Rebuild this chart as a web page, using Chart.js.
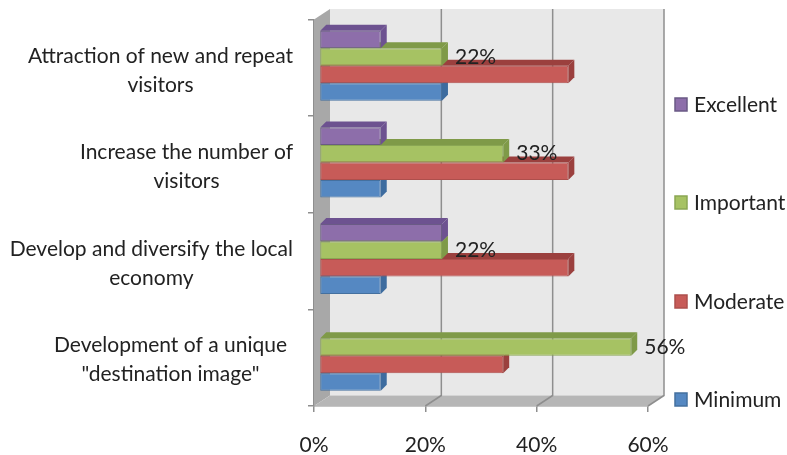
<!DOCTYPE html>
<html lang="en">
<head>
<meta charset="UTF-8">
<title>Chart</title>
<script src="https://cdn.jsdelivr.net/npm/chart.js"></script>
<style>
  html, body { margin: 0; padding: 0; background: #fff; }
  canvas { display: block; filter: blur(0.4px); }
</style>
</head>
<body>
<canvas id="myChart" width="787" height="455"></canvas>
<script>
const categories = [
  ['Attraction of new and repeat', 'visitors'],
  ['Increase the number of', 'visitors'],
  ['Develop and diversify the local', 'economy'],
  ['Development of a unique', '"destination image"']
];
const excellent = [11, 11, 22, 0];
const important = [22, 33, 22, 56];
const moderate = [44.7, 44.7, 44.7, 33];
const minimum = [22, 11, 11, 11];
const xTicks = [0, 20, 40, 60];
const seriesNames = ['Excellent', 'Important', 'Moderate', 'Minimum'];

const FONT = 'Lato';
const TEXT = '#222';
const faces = ['#8d6eaa', '#a6c263', '#c75b58', '#5588c2'];
const edges = ['#6d5290', '#7f9a48', '#9b403e', '#3d6c9f'];
const lines = ['#6a5a85', '#8aa653', '#ad4f4c', '#44709f'];
const legendY = [105, 203, 302, 400];
const labelRight = [293, 293, 293, 287];

// 3d look: wall depth and how far the bars sit from the front axis
const wallX = 16, wallY = 10.5;
const barX = 5.5, barY = -2, barDepth = 6;

function poly(ctx, color, pts) {
  ctx.fillStyle = color;
  ctx.beginPath();
  pts.forEach((p, i) => i ? ctx.lineTo(p[0], p[1]) : ctx.moveTo(p[0], p[1]));
  ctx.closePath();
  ctx.fill();
}

const look3d = {
  id: 'look3d',
  beforeDatasetsDraw(chart) {
    const { ctx, chartArea: a, scales: { x } } = chart;
    ctx.save();
    poly(ctx, '#e8e8e8', [[a.left + wallX, a.top - wallY], [a.right + wallX, a.top - wallY], [a.right + wallX, a.bottom - wallY], [a.left + wallX, a.bottom - wallY]]);
    poly(ctx, '#a8a8a8', [[a.left, a.top], [a.left + wallX, a.top - wallY], [a.left + wallX, a.bottom - wallY], [a.left, a.bottom]]);
    poly(ctx, '#b6b6b6', [[a.left, a.bottom], [a.left + wallX, a.bottom - wallY], [a.right + wallX, a.bottom - wallY], [a.right, a.bottom]]);
    ctx.strokeStyle = '#8e8e8e';
    ctx.lineWidth = 1.5;
    xTicks.forEach(v => {
      if (v === 0) return;
      const px = x.getPixelForValue(v);
      ctx.beginPath();
      ctx.moveTo(px, a.bottom);
      ctx.lineTo(px + wallX, a.bottom - wallY);
      ctx.lineTo(px + wallX, a.top - wallY);
      ctx.stroke();
    });
    ctx.restore();
  },
  beforeDatasetDraw(chart, args) {
    const { ctx } = chart;
    const meta = chart.getDatasetMeta(args.index);
    ctx.save();
    ctx.translate(barX, barY);
    meta.data.forEach(bar => {
      if (bar.x === bar.base) return;
      const top = bar.y - bar.height / 2, bottom = bar.y + bar.height / 2;
      poly(ctx, edges[args.index], [[bar.base, top], [bar.base + barDepth, top - barDepth], [bar.x + barDepth, top - barDepth], [bar.x, top]]);
      poly(ctx, edges[args.index], [[bar.x, top], [bar.x + barDepth, top - barDepth], [bar.x + barDepth, bottom - barDepth], [bar.x, bottom]]);
    });
  },
  afterDatasetDraw(chart) {
    chart.ctx.restore();
  },
  afterDatasetsDraw(chart) {
    const { ctx, scales: { y } } = chart;
    ctx.save();
    ctx.font = '21px ' + FONT;
    ctx.fillStyle = TEXT;
    ctx.textBaseline = 'middle';

    // percent labels, only the Important series has them
    ctx.textAlign = 'left';
    chart.getDatasetMeta(1).data.forEach((bar, i) => {
      ctx.fillText(important[i] + '%', bar.x + barX + 13, bar.y + barY);
    });

    // category labels: block sits right, each line is centered in it
    ctx.textAlign = 'center';
    categories.forEach((label, i) => {
      const w = Math.max(...label.map(s => ctx.measureText(s).width));
      const mid = y.getPixelForTick(i) + 2.5;
      ctx.fillText(label[0], labelRight[i] - w / 2, mid - 14.5);
      ctx.fillText(label[1], labelRight[i] - w / 2, mid + 14.5);
    });

    // legend is spread down the full height, the built in one wraps at this spacing
    ctx.textAlign = 'left';
    seriesNames.forEach((name, i) => {
      ctx.fillStyle = faces[i];
      ctx.strokeStyle = lines[i];
      ctx.lineWidth = 1.5;
      ctx.fillRect(675, legendY[i] - 7, 12, 13);
      ctx.strokeRect(675, legendY[i] - 7, 12, 13);
      ctx.fillStyle = TEXT;
      ctx.fillText(name, 694, legendY[i]);
    });
    ctx.restore();
  }
};

const seriesValues = [excellent, important, moderate, minimum];

new Chart(document.getElementById('myChart'), {
  type: 'bar',
  data: {
    labels: categories,
    datasets: seriesNames.map((name, i) => ({
      label: name,
      data: seriesValues[i],
      backgroundColor: faces[i],
      borderColor: lines[i],
      borderWidth: 1,
      borderSkipped: false,
      clip: false
    }))
  },
  options: {
    indexAxis: 'y',
    responsive: false,
    animation: false,
    barPercentage: 1,
    categoryPercentage: 0.725,
    layout: { padding: { left: 308, right: 139, top: 19.5, bottom: 0 } },
    plugins: { legend: { display: false }, tooltip: { enabled: false } },
    scales: {
      x: {
        min: 0,
        max: 60,
        afterBuildTicks(scale) { scale.ticks = xTicks.map(v => ({ value: v })); },
        afterFit(scale) { scale.height = 49; },
        grid: { drawOnChartArea: false, color: '#8e8e8e', lineWidth: 1.5, tickLength: 6 },
        border: { color: '#8e8e8e', width: 1.5 },
        ticks: {
          padding: 23,
          maxRotation: 0,
          color: TEXT,
          font: { family: FONT, size: 21, lineHeight: 1 },
          callback: v => v + '%'
        }
      },
      y: {
        grid: { drawOnChartArea: false, color: '#8e8e8e', lineWidth: 1.5, tickLength: 6 },
        border: { color: '#8e8e8e', width: 1.5 },
        ticks: { display: false }
      }
    }
  },
  plugins: [look3d]
});
</script>
</body>
</html>
